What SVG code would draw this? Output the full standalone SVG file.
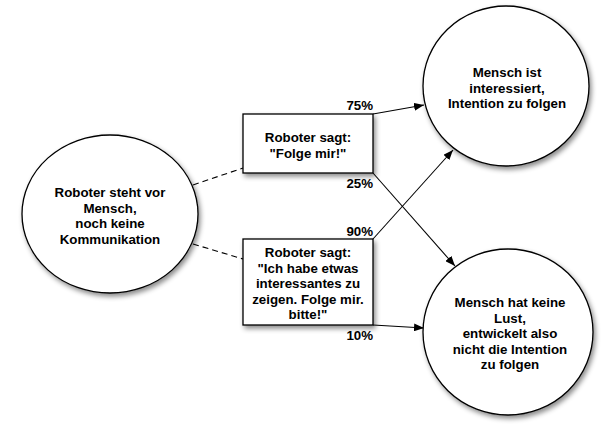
<svg xmlns="http://www.w3.org/2000/svg" width="607" height="430" viewBox="0 0 607 430">
<defs>
<filter id="sh" x="-20%" y="-20%" width="150%" height="150%">
<feDropShadow dx="2" dy="3" stdDeviation="2.5" flood-color="#000" flood-opacity="0.45"/>
</filter>
<marker id="ah" viewBox="0 0 10 8" refX="10" refY="4" markerWidth="10" markerHeight="8" markerUnits="userSpaceOnUse" orient="auto">
<path d="M0,0 L10,4 L0,8 Z" fill="#000"/>
</marker>
</defs>
<style>
.node{fill:#fff;stroke:#000;stroke-width:1.3;filter:url(#sh)}
.t{font-family:"Liberation Sans",Arial,sans-serif;font-weight:bold;font-size:13.3px;fill:#000;text-anchor:middle}
.p{font-family:"Liberation Sans",Arial,sans-serif;font-weight:bold;font-size:13.3px;fill:#000;text-anchor:end}
.c{fill:none;stroke:#000;stroke-width:1.1}
.d{fill:none;stroke:#000;stroke-width:1.1;stroke-dasharray:6,4}
</style>
<rect width="607" height="430" fill="#fff"/>
<g id="connectors">
<line class="d" x1="193" y1="185" x2="243" y2="168"/>
<line class="d" x1="193" y1="244" x2="243" y2="259"/>
<line class="c" x1="373" y1="114" x2="424" y2="105" marker-end="url(#ah)"/>
<line class="c" x1="373" y1="173" x2="455" y2="266" marker-end="url(#ah)"/>
<line class="c" x1="373" y1="239" x2="453" y2="150" marker-end="url(#ah)"/>
<line class="c" x1="373" y1="325" x2="424" y2="328" marker-end="url(#ah)"/>
<text class="p" x="373" y="110">75%</text>
<text class="p" x="373" y="188">25%</text>
<text class="p" x="373" y="236">90%</text>
<text class="p" x="373" y="340">10%</text>
</g>
<g id="start">
<ellipse class="node" cx="110" cy="214" rx="88" ry="79"/>
<text class="t" x="110" y="197">Roboter steht vor</text>
<text class="t" x="110" y="212.5">Mensch,</text>
<text class="t" x="110" y="228">noch keine</text>
<text class="t" x="110" y="243.5">Kommunikation</text>
</g>
<g id="box1">
<rect class="node" x="243" y="114" width="130" height="59"/>
<text class="t" x="308" y="141.5">Roboter sagt:</text>
<text class="t" x="308" y="157.5">"Folge mir!"</text>
</g>
<g id="box2">
<rect class="node" x="243" y="239" width="130" height="86"/>
<text class="t" x="308" y="257">Roboter sagt:</text>
<text class="t" x="308" y="272.5">"Ich habe etwas</text>
<text class="t" x="308" y="288">interessantes zu</text>
<text class="t" x="308" y="303.5">zeigen. Folge mir.</text>
<text class="t" x="308" y="319">bitte!"</text>
</g>
<g id="interested">
<ellipse class="node" cx="506" cy="86" rx="83" ry="80"/>
<text class="t" x="507" y="77">Mensch ist</text>
<text class="t" x="507" y="92.5">interessiert,</text>
<text class="t" x="507" y="108">Intention zu folgen</text>
</g>
<g id="notinterested">
<ellipse class="node" cx="508" cy="332" rx="85" ry="83"/>
<text class="t" x="510" y="307">Mensch hat keine</text>
<text class="t" x="510" y="322.5">Lust,</text>
<text class="t" x="510" y="338">entwickelt also</text>
<text class="t" x="510" y="353.5">nicht die Intention</text>
<text class="t" x="510" y="369">zu folgen</text>
</g>
</svg>
